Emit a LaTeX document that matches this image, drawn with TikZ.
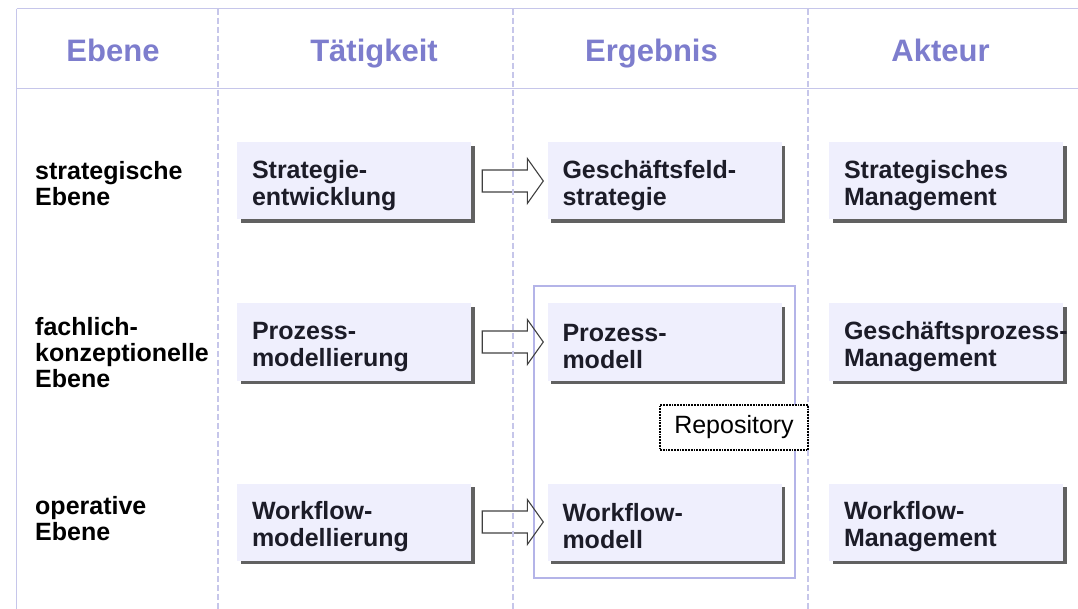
\documentclass[tikz,border=0pt]{standalone}
\usepackage{fontspec}
\setmainfont{Liberation Sans}
\usetikzlibrary{calc,fit,shadows}
\definecolor{kopffarbe}{RGB}{125,125,205}
\definecolor{linienfarbe}{RGB}{198,198,234}
\definecolor{kastenfarbe}{RGB}{239,239,253}
\definecolor{schriftfarbe}{RGB}{28,28,40}
\definecolor{rahmenfarbe}{RGB}{180,180,232}
\begin{document}
\begin{tikzpicture}[x=1pt,y=-1pt,
	kopf/.style={font=\fontsize{31}{35}\selectfont\bfseries, text=kopffarbe, anchor=base},
	ebene/.style={font=\fontsize{25}{26}\selectfont\bfseries, align=left, anchor=west, inner sep=0pt},
	kasten/.style={fill=kastenfarbe, minimum width=234pt, minimum height=77pt, text width=204pt, inner xsep=15pt, align=left, font=\fontsize{25}{27}\selectfont\bfseries, text=schriftfarbe, execute at begin node={\rule{0pt}{27pt}}, drop shadow={shadow xshift=3.5pt, shadow yshift=-3.5pt, fill=black!62, opacity=1}},
	pfeil/.style={draw=black!75, line width=1.1pt, line join=miter},
	gitter/.style={draw=linienfarbe, line width=1.5pt},
	strich/.style={gitter, dash pattern=on 6pt off 3pt}]
				\useasboundingbox (0,0) rectangle (1078,609);
				\node[kasten] (t1) at (354,181) {Strategie-\\entwicklung};
				\node[kasten] (e1) at (664.5,181) {Geschäftsfeld-\\strategie};
				\node[kasten] (a1) at (946,181) {Strategisches\\Management};
				\node[kasten] (t2) at (354,342) {Prozess-\\modellierung};
				\node[kasten] (e2) at (664.5,342) {Prozess-\\modell};
				\node[kasten] (a2) at (946,342) {\mbox{Geschäftsprozess-}\\Management};
				\node[kasten] (t3) at (354,522) {Workflow-\\modellierung};
				\node[kasten] (e3) at (664.5,522) {Workflow-\\modell};
				\node[kasten] (a3) at (946,522) {Workflow-\\Management};
				\node[draw=rahmenfarbe, line width=2pt, fit=(e2)(e3), inner xsep=13pt, inner ysep=17.5pt] (repo) {};
				\draw[pfeil] ($(t1.east)+(11,-11)$) -- ($(e1.west)+(-20,-11)$) -- ($(e1.west)+(-20,-22.5)$) -- ($(e1.west)+(-4,0)$) -- ($(e1.west)+(-20,22.5)$) -- ($(e1.west)+(-20,11)$) -- ($(t1.east)+(11,11)$) -- cycle;
				\draw[pfeil] ($(t2.east)+(11,-11)$) -- ($(e2.west)+(-20,-11)$) -- ($(e2.west)+(-20,-22.5)$) -- ($(e2.west)+(-4,0)$) -- ($(e2.west)+(-20,22.5)$) -- ($(e2.west)+(-20,11)$) -- ($(t2.east)+(11,11)$) -- cycle;
				\draw[pfeil] ($(t3.east)+(11,-11)$) -- ($(e3.west)+(-20,-11)$) -- ($(e3.west)+(-20,-22.5)$) -- ($(e3.west)+(-4,0)$) -- ($(e3.west)+(-20,22.5)$) -- ($(e3.west)+(-20,11)$) -- ($(t3.east)+(11,11)$) -- cycle;
				\draw[gitter] (16.5,8.6) -- (1078,8.6);
				\draw[gitter] (16.5,88.5) -- (1078,88.5);
				\draw[gitter] (16.5,8.6) -- (16.5,609);
				\draw[strich] (218,8.6) -- (218,609);
				\draw[strich] (513,8.6) -- (513,609);
				\draw[strich] (808,8.6) -- (808,609);
				\node[draw, densely dotted, line width=1.8pt, fill=white, minimum width=148pt, minimum height=45pt, font=\fontsize{25}{27}\selectfont] (repoLabel) at (734,427.5) {Repository};
				\node[kopf] (kEbene) at (113,62) {Ebene};
				\node[kopf] (kTaetigkeit) at (374,62) {Tätigkeit};
				\node[kopf] (kErgebnis) at (651.5,62) {Ergebnis};
				\node[kopf] (kAkteur) at (940.5,62) {Akteur};
				\node[ebene] (l1) at (35,184) {strategische\\Ebene};
				\node[ebene] (l2) at (35,353) {fachlich-\\konzeptionelle\\Ebene};
				\node[ebene] (l3) at (35,519) {operative\\Ebene};
\end{tikzpicture}
\end{document}
